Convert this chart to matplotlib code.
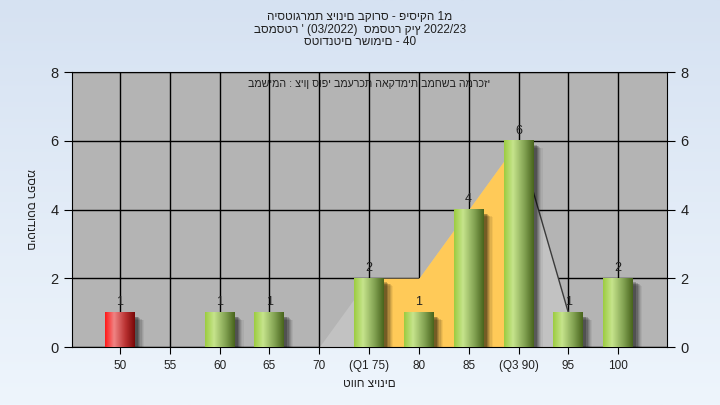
import matplotlib
matplotlib.use("Agg")
import matplotlib.pyplot as plt
import numpy as np
from matplotlib.colors import LinearSegmentedColormap
from matplotlib.patches import Rectangle

plt.rcParams['font.family'] = ['Liberation Sans', 'DejaVu Sans']

# data
grades = [50, 55, 60, 65, 70, 75, 80, 85, 90, 95, 100]
counts = [1, 0, 1, 1, 0, 2, 1, 4, 6, 1, 2]
tick_labels = ["50", "55", "60", "65", "70", "(Q1 75)", "80", "85", "(Q3 90)", "95", "100"]
fail_below = 55
# outline of the shaded distribution area
area_x = [70, 75, 80, 85, 90, 95]
area_y = [0, 2, 2, 4, 6, 1]
q1, q3 = 75, 90

title_lines = ["היסטוגרמת ציונים בקורס - פיסיקה 1מ",
               "בסמסטר ' (03/2022)  סמסטר קיץ 2022/23",
               "סטודנטים רשומים - 40"]
note = "במשימה : ציון סופי במערכת האקדמית במחשב המרכזי"
xlabel = "טווח ציונים"
ylabel = "מספר סטודנטים"

fig = plt.figure(figsize=(7.2, 4.05), dpi=100)

# background gradient
bg = fig.add_axes([0, 0, 1, 1], zorder=-10)
bg_cmap = LinearSegmentedColormap.from_list("bg", ["#d6e2f2", "#eef5fc"])
bg.imshow(np.linspace(0, 1, 256).reshape(-1, 1), aspect="auto", cmap=bg_cmap,
          extent=[0, 1, 0, 1])
bg.axis("off")

ax = fig.add_axes([0.1, 0.1432, 0.8264, 0.6790])
ax.set_facecolor("#b4b4b4")

# distribution area: light gray everywhere, orange between Q1 and Q3
ax.fill_between(area_x, area_y, 0, color="#c2c2c2", lw=0, zorder=1)
ax.fill_between(area_x, area_y, 0, where=[(q1 <= x <= q3) for x in area_x],
                interpolate=False, color="#ffca58", lw=0, zorder=1.1)
ax.plot(area_x[-2:], area_y[-2:], color="#3a3a3a", lw=1, zorder=1.2)

ax.grid(True, color="black", lw=1, zorder=0.5)
ax.set_axisbelow(True)

green = LinearSegmentedColormap.from_list(
    "g", [(0, "#9ccc40"), (0.3, "#c6e48c"), (0.7, "#80a050"), (1, "#48641c")])
red = LinearSegmentedColormap.from_list(
    "r", [(0, "#ff1818"), (0.3, "#f08484"), (0.7, "#b83030"), (1, "#780808")])
grad = np.linspace(0, 1, 128).reshape(1, -1)
width = 3.0

for g, c in zip(grades, counts):
    if c == 0:
        continue
    x0, x1 = g - width / 2, g + width / 2
    # soft shadow
    for k, a in zip(range(1, 7), [0.2, 0.16, 0.13, 0.1, 0.07, 0.05]):
        ax.add_patch(Rectangle((x0 + 0.12 * k + 0.2, -0.1 - 0.02 * k), width, c,
                               color="black", alpha=a, lw=0, zorder=2))
    cmap = red if g < fail_below else green
    ax.imshow(grad, cmap=cmap, aspect="auto", extent=[x0, x1, 0, c], zorder=3)
    ax.annotate(str(c), (g, c), xytext=(0, 3), textcoords="offset points",
                ha="center", va="bottom", fontsize=9, color="#202020", zorder=4)

ax.set_xlim(45.2, 104.9)
ax.set_ylim(0, 8)

ax.set_xticks(grades)
ax.set_xticklabels(tick_labels, fontsize=8.5, color="#202020")
ax.set_yticks(range(0, 9, 2))
ax.tick_params(axis="y", labelsize=10.5, length=6, color="black",
               labelcolor="#202020", right=True, labelright=True)
ax.tick_params(axis="x", length=5, color="black", pad=4)
for s in ax.spines.values():
    s.set_color("black")

ax.text(0.5, 0.955, note, transform=ax.transAxes, ha="center", va="center",
        fontsize=7.7, color="#202020")
ax.set_xlabel(xlabel, fontsize=8.5, color="#202020", labelpad=5)
ax.set_ylabel(ylabel, fontsize=8.5, color="#202020", rotation=270,
              labelpad=19, va="bottom")

for i, line in enumerate(title_lines):
    fig.text(0.5, 1 - (17 + 12.5 * i) / 405, line, ha="center", va="center",
             fontsize=8.5, color="#202020")

fig.savefig("out.png", dpi=100)
